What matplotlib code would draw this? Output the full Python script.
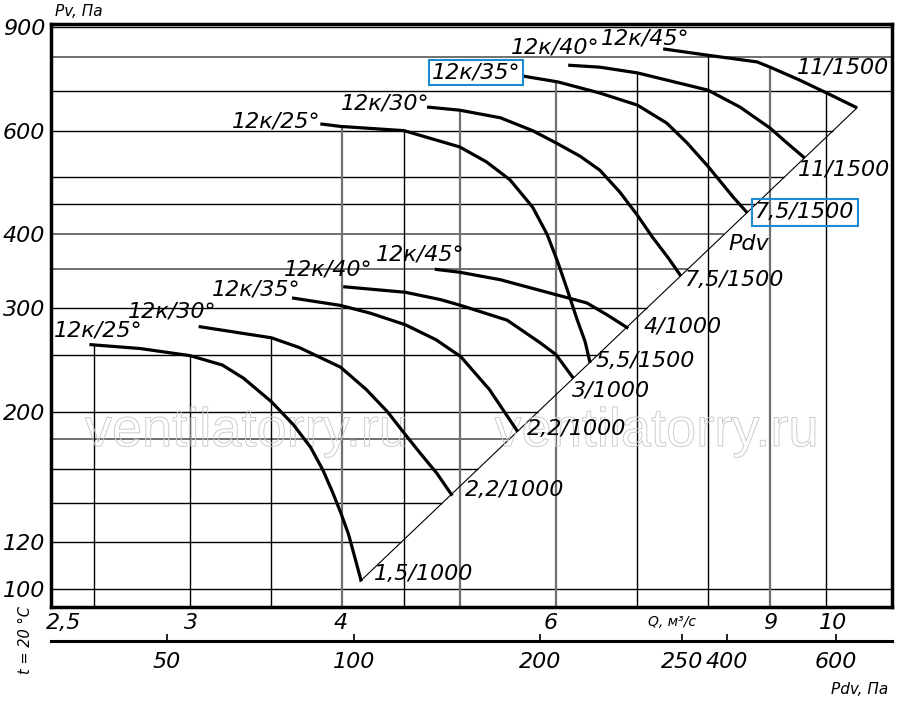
import numpy as np
import matplotlib
matplotlib.use("Agg")
import matplotlib.pyplot as plt
import matplotlib.transforms as mtransforms
from matplotlib.textpath import TextPath
from matplotlib.patches import PathPatch
from matplotlib.font_manager import FontProperties
from matplotlib.ticker import NullLocator

# fan curves: Q (m3/s) and Pv (Pa)
# 1000 rpm family
q_1000_25 = [2.48, 2.73, 3.00, 3.19, 3.32, 3.50, 3.65, 3.77, 3.86, 3.93, 3.99, 4.05, 4.10, 4.15]
p_1000_25 = [260, 256, 249, 240, 228, 208, 190, 174, 159, 146, 135, 124, 113, 103]
q_1000_30 = [3.05, 3.50, 3.69, 3.99, 4.19, 4.36, 4.50, 4.64, 4.79, 4.93]
p_1000_30 = [279, 267, 257, 238, 218, 200, 184, 170, 157, 144]
q_1000_35 = [3.64, 3.99, 4.22, 4.51, 4.78, 5.01, 5.29, 5.58]
p_1000_35 = [312, 303, 294, 281, 265, 248, 218, 185]
q_1000_40 = [4.01, 4.51, 4.82, 5.01, 5.47, 5.82, 6.00, 6.20]
p_1000_40 = [326, 319, 310, 303, 286, 262, 250, 228]
q_1000_45 = [4.77, 5.00, 5.40, 6.00, 6.36, 6.61, 6.88]
p_1000_45 = [349, 345, 335, 316, 306, 292, 277]
# 1500 rpm family
q_1500_25 = [3.84, 3.99, 4.50, 5.00, 5.26, 5.50, 5.74, 5.90, 6.02, 6.13, 6.24, 6.34, 6.40]
p_1500_25 = [616, 610, 600, 563, 531, 495, 445, 400, 359, 322, 288, 263, 242]
q_1500_30 = [4.70, 5.00, 5.40, 5.74, 6.00, 6.28, 6.52, 6.77, 7.00, 7.20, 7.42, 7.60]
p_1500_30 = [658, 650, 631, 600, 572, 543, 514, 472, 431, 396, 365, 340]
q_1500_35 = [5.63, 6.02, 6.52, 7.00, 7.40, 7.69, 8.00, 8.39, 8.62]
p_1500_35 = [743, 726, 695, 663, 618, 572, 522, 463, 435]
q_1500_40 = [6.14, 6.52, 7.00, 8.00, 8.50, 9.00, 9.29, 9.61]
p_1500_40 = [775, 769, 752, 703, 658, 606, 572, 539]
q_1500_45 = [7.35, 7.99, 8.78, 9.00, 9.52, 10.02, 10.61]
p_1500_45 = [826, 806, 785, 769, 731, 695, 656]

# dynamic pressure line (through curve ends)
diag_q = [4.14, 10.61]
diag_p = [103, 656]

blade_labels = ['12к/25°', '12к/30°', '12к/35°', '12к/40°', '12к/45°']
motor_1000 = ['1,5/1000', '2,2/1000', '2,2/1000', '3/1000', '4/1000']
motor_1500 = ['5,5/1500', '7,5/1500', '7,5/1500', '11/1500', '11/1500']

pv_ticks = [100, 120, 200, 300, 400, 600, 900]
pv_grid = [100, 120, 140, 160, 180, 200, 250, 300, 350, 400, 450, 500, 600, 700, 800, 900]
pv_grid_gray = [180, 350, 400, 800]
q_ticks = [2.5, 3, 4, 6, 9, 10]
q_tick_text = ['2,5', '3', '4', '6', '9', '10']
q_grid = [2.5, 3, 3.5, 4, 4.5, 5, 6, 7, 8, 9, 10]
q_grid_gray = [4, 5, 6, 9]
pdv_ticks = ['50', '100', '200', '250', '400', '600']
pdv_tick_q = [2.87, 4.09, 5.82, 7.62, 8.29, 10.2]

curves_1000 = [(q_1000_25, p_1000_25), (q_1000_30, p_1000_30), (q_1000_35, p_1000_35),
               (q_1000_40, p_1000_40), (q_1000_45, p_1000_45)]
curves_1500 = [(q_1500_25, p_1500_25), (q_1500_30, p_1500_30), (q_1500_35, p_1500_35),
               (q_1500_40, p_1500_40), (q_1500_45, p_1500_45)]

# label positions (data coords)
blade_1000_at = [(2.52, 275), (2.90, 296), (3.40, 322), (3.90, 348), (4.64, 370)]
blade_1500_at = [(3.53, 623), (4.34, 666), (5.16, 754), (5.99, 829), (7.10, 859)]
motor_1000_at = [(4.67, 106), (5.55, 147), (6.24, 187), (6.66, 217), (7.62, 279)]
motor_1500_at = [(7.11, 244), (8.41, 335), (9.61, 436), (10.35, 516), (10.33, 769)]
q_tick_dx = [-21.5, 1, -1, -3.5, 0, 5]

W, H = 900, 705
fig = plt.figure(figsize=(W / 100, H / 100), dpi=100)
ax = fig.add_axes([51 / W, 98 / H, 841 / W, 583 / H])
ax.set_xscale('log')
ax.set_yscale('log')
xmin, xmax = 2.306, 11.336
ymin, ymax = 93.2, 910.4
ax.set_xlim(xmin, xmax)
ax.set_ylim(ymin, ymax)

italic = dict(style='italic', family='DejaVu Sans')
blue = '#1d8ad6'

# grid: horizontals stop at the Pdv line, verticals stop at the top curve
ld_q, ld_p = np.log10(diag_q), np.log10(diag_p)
for p in pv_grid:
    if diag_p[0] <= p <= diag_p[1]:
        xe = 10 ** np.interp(np.log10(p), ld_p, ld_q)
    else:
        xe = xmax
    gray = p in pv_grid_gray
    ax.hlines(p, xmin, xe, color='#707070' if gray else 'black',
              lw=1.4 if gray else 1.0, zorder=1)

all_curves = curves_1000 + curves_1500
for q in q_grid:
    top = None
    for cq, cp in all_curves:
        if cq[0] <= q <= cq[-1]:
            v = 10 ** np.interp(np.log10(q), np.log10(cq), np.log10(cp))
            top = v if top is None else max(top, v)
    if top is None:
        top = ymax
    gray = q in q_grid_gray
    ax.vlines(q, ymin, top, color='#707070' if gray else 'black',
              lw=1.6 if gray else 1.0, zorder=1)

ax.plot(diag_q, diag_p, color='black', lw=0.8, zorder=2)

for cq, cp in all_curves:
    ax.plot(cq, cp, color='black', lw=2.3, solid_capstyle='butt',
            solid_joinstyle='round', zorder=3)

for txt, (x, y) in zip(blade_labels, blade_1000_at):
    ax.text(x, y, txt, fontsize=16, ha='center', va='center', zorder=4, **italic)
for i, (txt, (x, y)) in enumerate(zip(blade_labels, blade_1500_at)):
    box = dict(boxstyle='square,pad=0.12', fc='none', ec=blue, lw=1.5) if i == 2 else None
    ax.text(x, y, txt, fontsize=16, ha='center', va='center', zorder=4, bbox=box, **italic)
for txt, (x, y) in zip(motor_1000, motor_1000_at):
    ax.text(x, y, txt, fontsize=16, ha='center', va='center', zorder=4, **italic)
for i, (txt, (x, y)) in enumerate(zip(motor_1500, motor_1500_at)):
    box = dict(boxstyle='square,pad=0.15', fc='none', ec=blue, lw=1.5) if i == 2 else None
    ax.text(x, y, txt, fontsize=16, ha='center', va='center', zorder=4, bbox=box, **italic)
ax.text(8.65, 385, 'Pdv', fontsize=16, ha='center', va='center', zorder=4, **italic)

# watermark, outlined text
fp = FontProperties(family='Liberation Sans')
for xa in (0.231, 0.718):
    tp = TextPath((0, 0), 'ventilatorry.ru', size=39, prop=fp)
    ext = tp.get_extents()
    tr = (mtransforms.Affine2D().translate(-(ext.x0 + ext.x1) / 2, -(ext.y0 + ext.y1) / 2)
          .scale(fig.dpi / 72)
          + mtransforms.ScaledTranslation(xa, 0.30, ax.transAxes))
    ax.add_patch(PathPatch(tp, transform=tr, fc='none', ec='#cccccc', lw=0.7, zorder=2))

# axes frame and ticks
for s in ax.spines.values():
    s.set_linewidth(2.5)
ax.set_yticks(pv_ticks)
ax.set_yticklabels([str(v) for v in pv_ticks], fontsize=16, **italic)
ax.yaxis.set_minor_locator(NullLocator())
ax.xaxis.set_minor_locator(NullLocator())
ax.set_xticks([])
ax.tick_params(axis='y', length=0, pad=4)

xt = ax.get_xaxis_transform()
for q, t, dx in zip(q_ticks, q_tick_text, q_tick_dx):
    ax.annotate(t, (q, -0.027), xycoords=xt, xytext=(dx, 0), textcoords='offset points',
                fontsize=16, ha='center', va='center', annotation_clip=False, **italic)
ax.text(7.47, -0.025, 'Q, м³/с', transform=xt, fontsize=10, ha='center', va='center', **italic)

# Pdv scale under the plot
ax2 = fig.add_axes([51 / W, (H - 641) / H, 841 / W, 6 / H])
ax2.set_xscale('log')
ax2.set_xlim(xmin, xmax)
ax2.set_ylim(0, 1)
ax2.patch.set_alpha(0)
for k in ('left', 'right', 'top'):
    ax2.spines[k].set_visible(False)
ax2.spines['bottom'].set_linewidth(2.2)
ax2.set_yticks([])
ax2.xaxis.set_minor_locator(NullLocator())
ax2.set_xticks(pdv_tick_q)
ax2.set_xticklabels(pdv_ticks, fontsize=16, **italic)
ax2.tick_params(axis='x', direction='in', length=5, width=1.2, pad=8)

fig.text(55 / W, 1 - 11 / H, 'Pv, Па', fontsize=11, ha='left', va='center', **italic)
fig.text(888 / W, 1 - 690 / H, 'Pdv, Па', fontsize=11, ha='right', va='center', **italic)
fig.text(25 / W, 1 - 640 / H, 't = 20 °C', fontsize=10.5, rotation=90, ha='center', va='center', **italic)

fig.savefig('out.png', dpi=100)
